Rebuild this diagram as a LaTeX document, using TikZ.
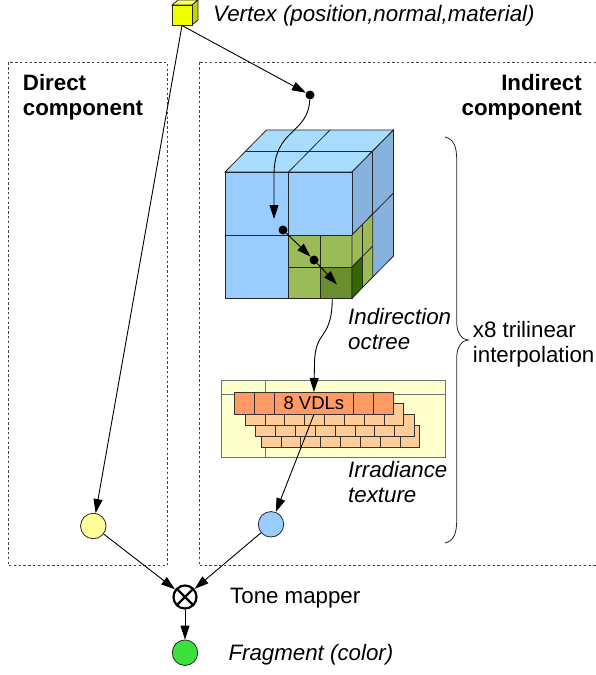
\documentclass[tikz,border=0pt]{standalone}
\usepackage{fontspec}
\setmainfont{Liberation Sans}
\usetikzlibrary{arrows.meta}
\definecolor{topblue}{HTML}{A8DCFF}
\definecolor{frontblue}{HTML}{99CCFF}
\definecolor{sideblue}{HTML}{86B2DD}
\definecolor{greenA}{HTML}{9BBB59}
\definecolor{greenB}{HTML}{6A8E2B}
\definecolor{greenC}{HTML}{336600}
\definecolor{texyellow}{HTML}{FFFFCC}
\definecolor{brickdark}{HTML}{FF9966}
\definecolor{bricklight}{HTML}{FFCC99}
\definecolor{vfront}{HTML}{EEFF00}
\definecolor{vtop}{HTML}{FFFF66}
\definecolor{vside}{HTML}{C4D000}
\definecolor{circyellow}{HTML}{FFFF99}
\definecolor{circblue}{HTML}{99CCFF}
\definecolor{circgreen}{HTML}{3BE03B}
\begin{document}
\begin{tikzpicture}[x=1pt,y=-1pt,
  every node/.style={font=\fontsize{22.3}{25}\selectfont},
  itfont/.style={font=\fontsize{22.3}{25}\selectfont\itshape},
  bffont/.style={font=\fontsize{22.3}{25}\selectfont\bfseries},
  arr/.style={-{Triangle[length=14pt,width=9pt]}, line width=0.9pt},
  edge/.style={draw=black!85, line width=0.8pt},
  dashbox/.style={draw=black!75, line width=0.8pt, dash pattern=on 2.4pt off 2.4pt},
  bigdot/.style={circle, fill=black, minimum size=9pt, inner sep=0pt},
  stage/.style={circle, draw=black!85, line width=0.8pt, minimum size=25.5pt, inner sep=0pt},
  brick/.style={draw=black!80, line width=0.7pt},
  lbl/.style={inner sep=0pt, align=left}]
\useasboundingbox (0,0) rectangle (595,675);

% dashed component boxes
\draw[dashbox] (8.3,62.3) rectangle (167.3,565.5);
\draw[dashbox] (199,62.3) rectangle (600,565.5);
\node[lbl, anchor=base west, bffont] (dlab) at (22.7,115) {Direct\\component};
\node[lbl, anchor=base east, align=right, bffont] (ilab) at (582,115) {Indirect\\component};

% vertex cube
\filldraw[edge, fill=vtop] (172,5) -- (178,0) -- (198,0) -- (192,5) -- cycle;
\filldraw[edge, fill=vside] (192,5) -- (198,0) -- (198,20) -- (192,25) -- cycle;
\filldraw[edge, fill=vfront] (172,5) rectangle (192,25);
\coordinate (vtx) at (182,25.5);
\node[lbl, anchor=base west, itfont] (vlab) at (213,21) {Vertex (position,normal,material)};

% octree cube
\filldraw[edge, fill=topblue] (225,172) -- (266.5,130) -- (393.5,130) -- (352,172) -- cycle;
\draw[edge] (245.75,151) -- (372.75,151);
\draw[edge] (288.5,172) -- (330,130);
\filldraw[edge, fill=sideblue] (352,172) -- (393.5,130) -- (393.5,256) -- (352,298) -- cycle;
\draw[edge] (372.75,151) -- (372.75,277);
\draw[edge] (352,235) -- (393.5,193);
\filldraw[edge, fill=frontblue] (225,172) rectangle (352,298);
\draw[edge] (288.5,172) -- (288.5,298);
\draw[edge] (225,235) -- (352,235);
\filldraw[edge, fill=greenA] (288.5,235) rectangle (352,298);
\filldraw[edge, fill=greenB] (320.25,267) rectangle (352,298);
\draw[edge] (320.25,235) -- (320.25,298);
\draw[edge] (288.5,267) -- (352,267);
\filldraw[edge, fill=greenA] (352,235) -- (372.75,214) -- (372.75,277) -- (352,298) -- cycle;
\filldraw[edge, fill=greenC] (352,267) -- (362.4,256.5) -- (362.4,287.5) -- (352,298) -- cycle;
\draw[edge] (362.4,224.5) -- (362.4,287.5);
\draw[edge] (352,267) -- (372.75,246);
\coordinate (cb) at (332.3,298);

\node[lbl, anchor=base west, itfont] (olab) at (348,349) {Indirection\\octree};

% irradiance texture
\filldraw[draw=black!55, line width=0.8pt, fill=texyellow] (221.7,380) rectangle (445,457.3);
\draw[draw=black!55, line width=0.8pt] (221.7,394.5) -- (445,394.5);
\draw[draw=black!55, line width=0.8pt] (265,380) -- (265,457.3);
\foreach \x/\y in {261/425, 255.7/414.3, 245/403.3}{
  \filldraw[brick, fill=bricklight] (\x,\y) rectangle ++(158.8,22);
  \foreach \k in {1,...,7}{\draw[brick] (\x+19.85*\k,\y) -- ++(0,22);}
}
\filldraw[brick, fill=brickdark] (234.3,392.3) rectangle ++(158.8,22);
\foreach \k in {1,2,6,7}{\draw[brick] (234.3+19.85*\k,392.3) -- ++(0,22);}
\node[brick, fill=brickdark, minimum width=79.4pt, minimum height=22pt, inner sep=0pt, font=\fontsize{18.5}{22}\selectfont] (vdl) at (313.85,403.3) {8 VDLs};

\node[lbl, anchor=base west, itfont] (tlab) at (348,502) {Irradiance\\texture};

% brace
\draw[draw=black!85, line width=0.8pt] (445,137) .. controls (453,139) and (456.7,145) .. (456.7,160) -- (456.7,322)
  .. controls (456.7,333) and (462,340) .. (468.3,340)
  .. controls (462,340) and (456.7,347) .. (456.7,358) -- (456.7,520)
  .. controls (456.7,535) and (453,541) .. (445,543);
\node[lbl, anchor=base west] (blab) at (472.7,362) {x8 trilinear\\interpolation};

% dots in the octree path
\node[bigdot] (d1) at (310,95) {};
\node[bigdot] (d2) at (283,230) {};
\node[bigdot] (d3) at (314,260) {};
\coordinate (a1) at (274,219);
\coordinate (a2) at (337,284.5);

% stages
\node[stage, fill=circyellow] (yc) at (93.3,526) {};
\node[stage, fill=circblue] (bc) at (271,524.3) {};
\node[circle, draw=black, line width=2.2pt, minimum size=23pt, inner sep=0pt, fill=white,
  path picture={\draw[line width=2.2pt] (path picture bounding box.north west) -- (path picture bounding box.south east)
                 (path picture bounding box.north east) -- (path picture bounding box.south west);}] (tm) at (185,597) {};
\node[stage, fill=circgreen] (gc) at (185,652.7) {};
\node[lbl, anchor=base west] (tmlab) at (230,603.5) {Tone mapper};
\node[lbl, anchor=base west, itfont] (glab) at (228.3,660.7) {Fragment (color)};

% connectors
\draw[arr] (vtx) -- (yc);
\draw[arr] (vtx) -- (d1);
\draw[arr] (d1) .. controls (308,135) and (274,128) .. (274,175) -- (a1);
\draw[arr] (d2) -- (d3);
\draw[arr] (d3) -- (a2);
\draw[arr] (cb) .. controls (332,342) and (314.5,328) .. (314.5,365) -- (vdl.north);
\draw[arr] (vdl.south) -- (bc);
\draw[arr] (yc) -- (tm);
\draw[arr] (bc) -- (tm);
\draw[arr] (tm) -- (gc);
\end{tikzpicture}
\end{document}
